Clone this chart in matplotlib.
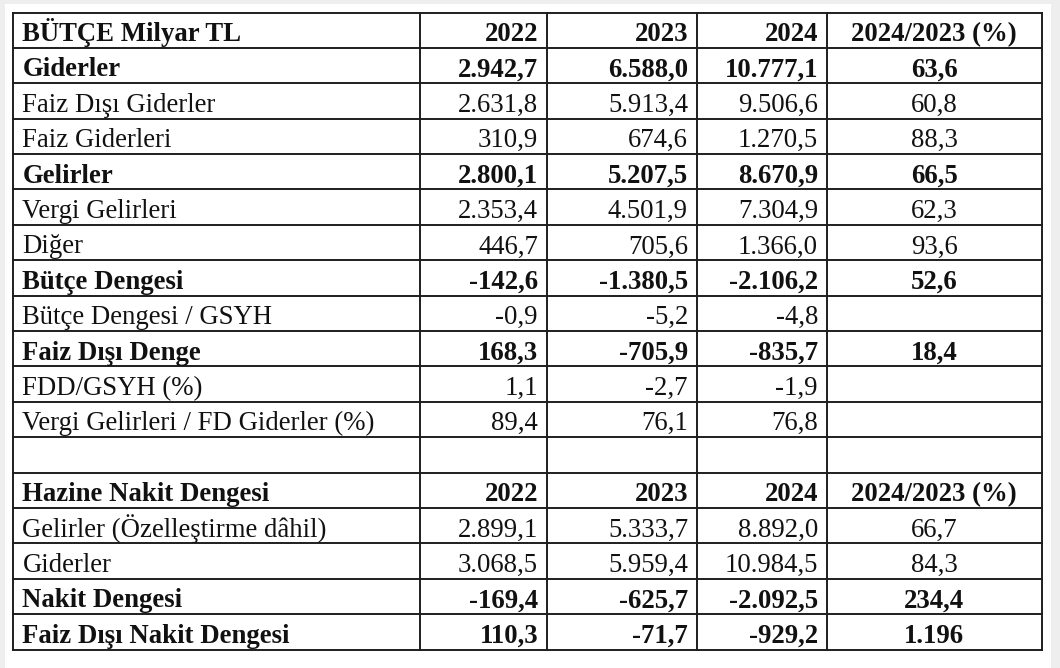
"""
Budget table (BÜTÇE Milyar TL) redrawn with matplotlib.
"""
import matplotlib.pyplot as plt
from matplotlib.patches import Rectangle

# table content
row_labels = [
    "BÜTÇE Milyar TL", "Giderler", "Faiz Dışı Giderler", "Faiz Giderleri",
    "Gelirler", "Vergi Gelirleri", "Diğer", "Bütçe Dengesi",
    "Bütçe Dengesi / GSYH", "Faiz Dışı Denge", "FDD/GSYH (%)",
    "Vergi Gelirleri / FD Giderler (%)", "",
    "Hazine Nakit Dengesi", "Gelirler (Özelleştirme dâhil)", "Giderler",
    "Nakit Dengesi", "Faiz Dışı Nakit Dengesi",
]
bold_rows = [1, 1, 0, 0, 1, 0, 0, 1, 0, 1, 0, 0, 0, 1, 0, 0, 1, 1]
col_2022 = ["2022", "2.942,7", "2.631,8", "310,9", "2.800,1", "2.353,4", "446,7",
            "-142,6", "-0,9", "168,3", "1,1", "89,4", "",
            "2022", "2.899,1", "3.068,5", "-169,4", "110,3"]
col_2023 = ["2023", "6.588,0", "5.913,4", "674,6", "5.207,5", "4.501,9", "705,6",
            "-1.380,5", "-5,2", "-705,9", "-2,7", "76,1", "",
            "2023", "5.333,7", "5.959,4", "-625,7", "-71,7"]
col_2024 = ["2024", "10.777,1", "9.506,6", "1.270,5", "8.670,9", "7.304,9", "1.366,0",
            "-2.106,2", "-4,8", "-835,7", "-1,9", "76,8", "",
            "2024", "8.892,0", "10.984,5", "-2.092,5", "-929,2"]
col_change = ["2024/2023 (%)", "63,6", "60,8", "88,3", "66,5", "62,3", "93,6",
              "52,6", "", "18,4", "", "", "",
              "2024/2023 (%)", "66,7", "84,3", "234,4", "1.196"]

# layout in pixel units
W, H = 1060, 668
col_edges = [12.5, 419.5, 546.5, 696.5, 826.5, 1041.5]
top, bottom = 12.5, 649.5
n_rows = len(row_labels)
row_h = (bottom - top) / n_rows

plt.rcParams['font.family'] = ['Liberation Serif', 'DejaVu Serif']

fig = plt.figure(figsize=(W / 100, H / 100), dpi=100)
fig.patch.set_facecolor('#eeeeee')
ax = fig.add_axes([0, 0, 1, 1])
ax.set_xlim(0, W)
ax.set_ylim(H, 0)
ax.axis('off')

# white page area
ax.add_patch(Rectangle((5, 4), 1046, H - 4, facecolor='white', edgecolor='none', zorder=0))

line_kw = dict(color='#1e1e1e', lw=1.4, solid_capstyle='projecting', zorder=3)
for i in range(n_rows + 1):
    y = top + i * row_h
    ax.plot([col_edges[0], col_edges[-1]], [y, y], **line_kw)
for x in col_edges:
    ax.plot([x, x], [top, bottom], **line_kw)

fs = 19.3
txt = dict(fontsize=fs, color='#111111', va='baseline')
columns = [col_2022, col_2023, col_2024]
for i, label in enumerate(row_labels):
    yb = top + i * row_h + row_h - 6.8
    weight = 'bold' if bold_rows[i] else 'normal'
    ax.text(col_edges[0] + 10, yb, label, ha='left', fontweight=weight, **txt)
    for j, col in enumerate(columns):
        ax.text(col_edges[j + 2] - 8.5, yb, col[i], ha='right', fontweight=weight, **txt)
    ax.text((col_edges[4] + col_edges[5]) / 2, yb, col_change[i], ha='center',
            fontweight=weight, **txt)

fig.savefig('out.png', dpi=100, facecolor=fig.get_facecolor())
